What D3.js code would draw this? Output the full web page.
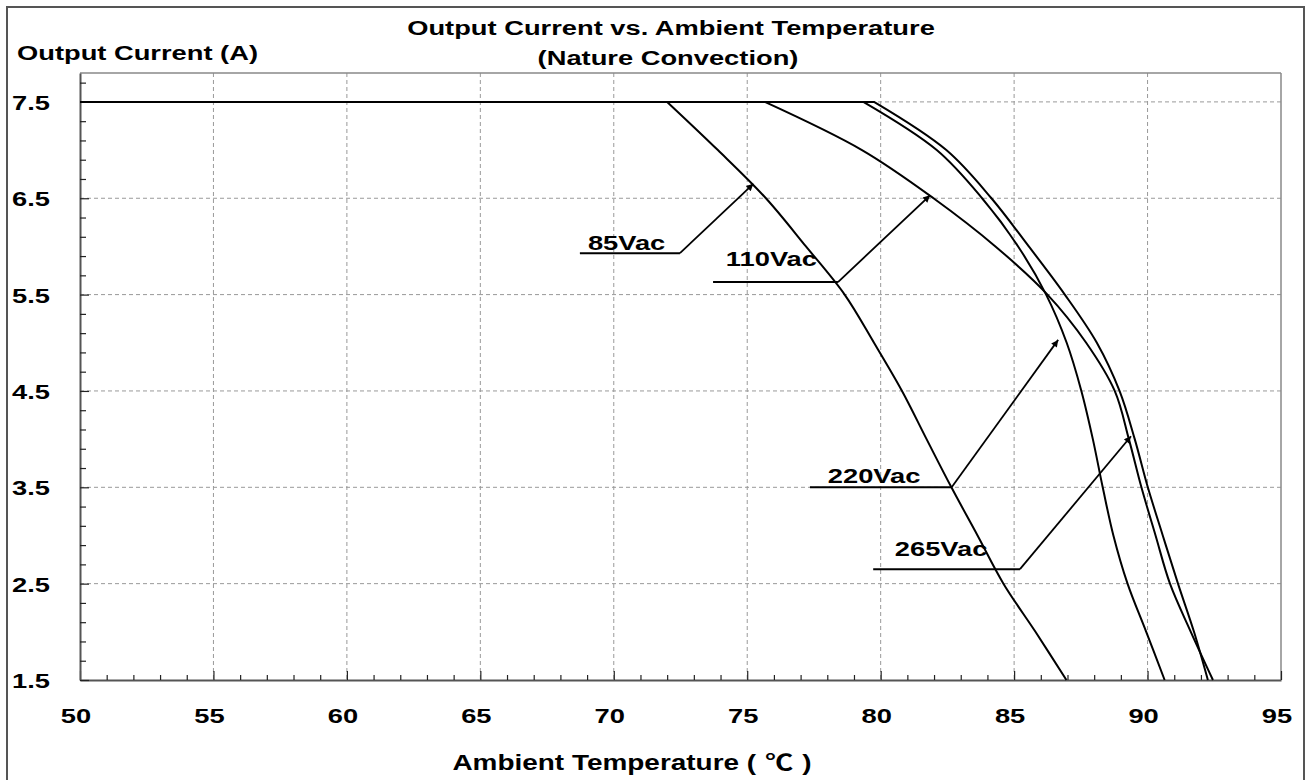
<!DOCTYPE html>
<html>
<head>
<meta charset="utf-8">
<script src="https://cdn.jsdelivr.net/npm/d3@7"></script>
<style>
  html, body { margin: 0; padding: 0; background: #fff; }
  svg { display: block; }
  text { font-family: "Liberation Sans", Arial, "Noto Sans CJK SC", sans-serif; font-weight: bold; fill: #000; }
</style>
</head>
<body>
<svg id="chart" width="1309" height="780"></svg>
<script>
// Output current derating vs. ambient temperature, natural convection.
const seriesNames = ["85Vac", "110Vac", "220Vac", "265Vac"];

const temp85 = [50, 72.0, 73.9, 75.7, 77.2, 78.65, 79.75, 80.8, 81.72, 82.65, 83.63, 84.6, 85.8, 86.96];
const curr85 = [7.5, 7.5, 7.0, 6.5, 6.0, 5.5, 5.0, 4.5, 4.0, 3.5, 3.0, 2.5, 2.0, 1.5];

const temp110 = [50, 75.66, 79.3, 81.98, 84.3, 86.25, 87.7, 88.77, 89.3, 89.77, 90.3, 90.84, 91.62, 92.45];
const curr110 = [7.5, 7.5, 7.0, 6.5, 6.0, 5.5, 5.0, 4.5, 4.0, 3.5, 3.0, 2.5, 2.0, 1.5];

const temp220 = [50, 79.35, 82.1, 83.8, 85.15, 86.2, 86.97, 87.52, 87.95, 88.32, 88.72, 89.25, 89.95, 90.64];
const curr220 = [7.5, 7.5, 7.0, 6.5, 6.0, 5.5, 5.0, 4.5, 4.0, 3.5, 3.0, 2.5, 2.0, 1.5];

const temp265 = [50, 79.75, 82.46, 84.15, 85.55, 86.9, 88.1, 88.95, 89.52, 90.01, 90.57, 91.14, 91.74, 92.26];
const curr265 = [7.5, 7.5, 7.0, 6.5, 6.0, 5.5, 5.0, 4.5, 4.0, 3.5, 3.0, 2.5, 2.0, 1.5];

const xTickValues = [50, 55, 60, 65, 70, 75, 80, 85, 90, 95];
const yTickValues = [1.5, 2.5, 3.5, 4.5, 5.5, 6.5, 7.5];
const yTickLabels = ["1.5", "2.5", "3.5", "4.5", "5.5", "6.5", "7.5"];

// Callouts: text anchor, underline start, elbow, arrow tip (all in °C / A)
const callouts = [
  { name: "85Vac",  text: [69.03, 5.96], start: [68.73, 5.93], elbow: [72.48, 5.93], tip: [75.23, 6.65] },
  { name: "110Vac", text: [74.2, 5.80],  start: [73.72, 5.63], elbow: [78.4, 5.63],  tip: [81.85, 6.53] },
  { name: "220Vac", text: [78.02, 3.54], start: [77.35, 3.50], elbow: [82.66, 3.50], tip: [86.65, 5.03] },
  { name: "265Vac", text: [80.53, 2.79], start: [79.72, 2.65], elbow: [85.22, 2.65], tip: [89.38, 4.03] }
];

const series = [
  { name: seriesNames[0], t: temp85,  c: curr85 },
  { name: seriesNames[1], t: temp110, c: curr110 },
  { name: seriesNames[2], t: temp220, c: curr220 },
  { name: seriesNames[3], t: temp265, c: curr265 }
];

const svg = d3.select("#chart");
const plot = { left: 80, right: 1281, top: 73, bottom: 680 };
const x = d3.scaleLinear().domain([50, 95]).range([plot.left, plot.right]);
const y = d3.scaleLinear().domain([1.5, 7.8]).range([plot.bottom, plot.top]);
const SX = 1.3; // glyphs are drawn horizontally widened

function label(g, px, py, str, anchor, size) {
  return g.append("text")
    .attr("transform", `translate(${px},${py}) scale(${SX},1)`)
    .attr("text-anchor", anchor || "start")
    .attr("font-size", size || 21)
    .text(str);
}

// outer frame
svg.append("rect").attr("x", 7).attr("y", 7).attr("width", 1297).attr("height", 800)
  .attr("fill", "none").attr("stroke", "#555").attr("stroke-width", 2);

// grid
const grid = svg.append("g");
grid.selectAll("line.v").data(xTickValues.filter(v => v > 50 && v < 95)).join("line")
  .attr("x1", d => x(d)).attr("x2", d => x(d)).attr("y1", plot.top).attr("y2", plot.bottom)
  .attr("stroke", "#999").attr("stroke-width", 1).attr("stroke-dasharray", "4,3");
grid.selectAll("line.h").data(yTickValues.filter(v => v > 1.5)).join("line")
  .attr("x1", plot.left).attr("x2", plot.right).attr("y1", d => y(d)).attr("y2", d => y(d))
  .attr("stroke", "#999").attr("stroke-width", 1).attr("stroke-dasharray", "4,3");

// plot box top and right edges
svg.append("line").attr("x1", plot.left).attr("x2", plot.right).attr("y1", plot.top).attr("y2", plot.top)
  .attr("stroke", "#888").attr("stroke-width", 1.5);
svg.append("line").attr("x1", plot.right).attr("x2", plot.right).attr("y1", plot.top).attr("y2", plot.bottom)
  .attr("stroke", "#888").attr("stroke-width", 1.5);

// x axis: minor ticks every 1 °C, longer ticks at labelled values
const xAxis = d3.axisBottom(x).tickValues(d3.range(50, 96, 1)).tickSize(0).tickFormat("");
const gx = svg.append("g").attr("transform", `translate(0,${plot.bottom})`).call(xAxis);
gx.select(".domain").attr("stroke", "#555").attr("stroke-width", 2);
gx.selectAll(".tick line").attr("y2", d => xTickValues.includes(d) ? -9 : -5)
  .attr("stroke", "#222").attr("stroke-width", 1.2);

// y axis: minor ticks every 0.2 A, pointing into the plot
const yMinor = d3.range(0, 32).map(i => +(1.5 + i * 0.2).toFixed(1)).filter(v => v <= 7.8);
const yAxis = d3.axisLeft(y).tickValues(yMinor).tickSize(0).tickFormat("");
const gy = svg.append("g").attr("transform", `translate(${plot.left},0)`).call(yAxis);
gy.select(".domain").attr("stroke", "#555").attr("stroke-width", 2);
gy.selectAll(".tick line").attr("x2", d => yTickValues.includes(d) ? 9 : 6)
  .attr("stroke", "#222").attr("stroke-width", 1.2);

// tick labels
xTickValues.forEach(v => label(svg, x(v) - 4, 723, String(v), "middle"));
yTickValues.forEach((v, i) => label(svg, 12, y(v) + 8, yTickLabels[i], "start"));

// titles
label(svg, 671, 35, "Output Current vs. Ambient Temperature", "middle");
label(svg, 668, 65, "(Nature Convection)", "middle");
label(svg, 17, 60, "Output Current (A)", "start");
const xTitle = label(svg, 632, 770, "Ambient Temperature (", "middle", 21.5);
xTitle.append("tspan").attr("dx", 7).text("\u2103");
xTitle.append("tspan").attr("dx", 7).text(")");

// curves: flat rated section, then the derating slope
const flatLine = d3.line().x(d => x(d[0])).y(d => y(d[1]));
const dropLine = d3.line().x(d => x(d[0])).y(d => y(d[1])).curve(d3.curveCatmullRom.alpha(0.5));
const curves = svg.append("g");
series.forEach(s => {
  const pts = s.t.map((t, i) => [t, s.c[i]]);
  const d = flatLine(pts.slice(0, 2)) + dropLine(pts.slice(1)).replace(/^M/, "L");
  curves.append("path").attr("d", d).attr("fill", "none")
    .attr("stroke", "#000").attr("stroke-width", 2).attr("stroke-linejoin", "round");
});

// arrowhead marker
svg.append("defs").append("marker")
  .attr("id", "arrow").attr("viewBox", "0 0 10 10").attr("refX", 10).attr("refY", 5)
  .attr("markerWidth", 10).attr("markerHeight", 7).attr("markerUnits", "userSpaceOnUse")
  .attr("orient", "auto")
  .append("path").attr("d", "M0,0 L10,5 L0,10 Z").attr("fill", "#000");

// callouts
const notes = svg.append("g");
callouts.forEach(c => {
  notes.append("line")
    .attr("x1", x(c.start[0])).attr("y1", y(c.start[1]))
    .attr("x2", x(c.elbow[0])).attr("y2", y(c.elbow[1]))
    .attr("stroke", "#000").attr("stroke-width", 2);
  notes.append("line")
    .attr("x1", x(c.elbow[0])).attr("y1", y(c.elbow[1]))
    .attr("x2", x(c.tip[0])).attr("y2", y(c.tip[1]))
    .attr("stroke", "#000").attr("stroke-width", 1.8).attr("marker-end", "url(#arrow)");
  label(notes, x(c.text[0]), y(c.text[1]), c.name, "start");
});
</script>
</body>
</html>
